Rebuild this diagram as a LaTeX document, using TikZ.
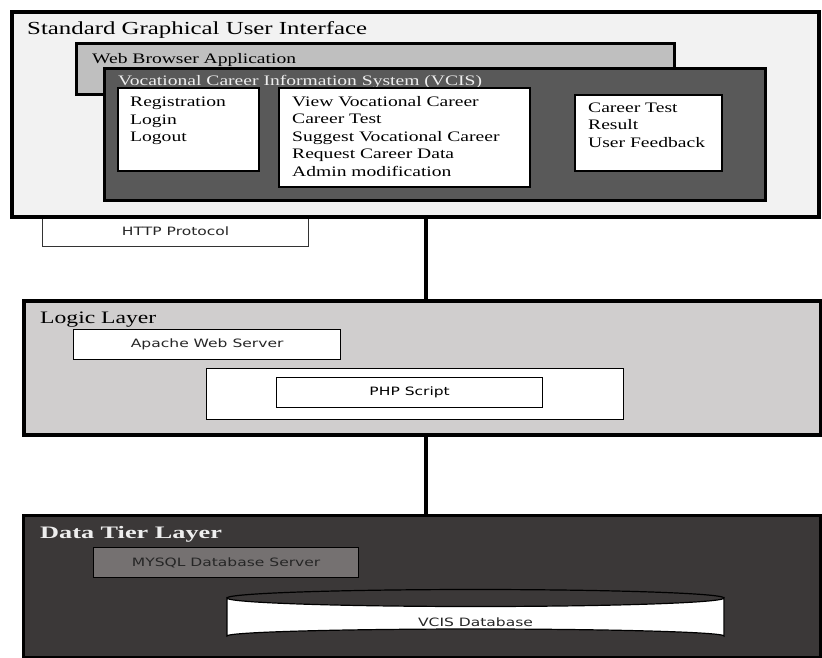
\documentclass[tikz,border=0pt]{standalone}
\usepackage{fontspec}
\setmainfont{Liberation Serif}[FakeStretch=1.35]
\newfontfamily\layerbold{Liberation Serif}[FakeStretch=1.5]
\setsansfont{DejaVu Sans}[FakeStretch=1.35]

\definecolor{guibg}{HTML}{F2F2F2}
\definecolor{webbg}{HTML}{BFBFBF}
\definecolor{vcisbg}{HTML}{595959}
\definecolor{logicbg}{HTML}{D0CECE}
\definecolor{databg}{HTML}{3B3838}
\definecolor{mysqlbg}{HTML}{757171}
\definecolor{lighttext}{HTML}{EEEEEE}
\definecolor{sanstext}{HTML}{262626}

\tikzset{
  frame/.style={anchor=north west, inner sep=0pt, draw=black},
  layer/.style={frame, line width=3.5pt},
  panel/.style={frame, fill=white, line width=1.5pt},
  plainbox/.style={frame, fill=white, line width=1.2pt},
  wire/.style={line width=4pt, draw=black},
  heading/.style={anchor=base west, inner sep=0pt},
  itemtext/.style={anchor=base west, inner sep=0pt, font=\fontsize{14.5}{17.5}\selectfont},
  sanslabel/.style={inner sep=0pt, text=sanstext, font=\sffamily\fontsize{11.5}{13}\selectfont},
}

\begin{document}
\begin{tikzpicture}[x=1pt, y=-1pt]
\useasboundingbox (0,0) rectangle (822,657);

% ---- presentation tier ----
\node[plainbox, draw=black!80, minimum width=266pt, minimum height=31pt] (http) at (42,215) {};
\node[sanslabel] (httplbl) at (http.center) {HTTP Protocol};

\node[layer, fill=guibg, minimum width=807pt, minimum height=205pt] (gui) at (10,10) {};
\node[heading, font=\fontsize{18.4}{22}\selectfont] (guititle) at (27,34) {Standard Graphical User Interface};

\node[frame, fill=webbg, line width=2.5pt, minimum width=598pt, minimum height=51pt] (web) at (75,42) {};
\node[heading, font=\fontsize{14.5}{17}\selectfont] (webtitle) at (92,63) {Web Browser Application};

\node[frame, fill=vcisbg, line width=3pt, minimum width=661pt, minimum height=132pt] (vcis) at (103,67) {};
\node[heading, text=lighttext, font=\fontsize{14.5}{17}\selectfont] (vcistitle) at (118,85) {Vocational Career Information System (VCIS)};

\node[panel, minimum width=141pt, minimum height=83pt] (acct) at (117,87) {};
\node[panel, minimum width=251pt, minimum height=99pt] (career) at (278,87) {};
\node[panel, minimum width=147pt, minimum height=76pt] (result) at (574,94) {};

\foreach \t [count=\i from 0] in {Registration, Login, Logout}
  \node[itemtext] (acct\i) at ({130},{106.5+17.6*\i}) {\t};
\foreach \t [count=\i from 0] in {View Vocational Career, Career Test, Suggest Vocational Career, Request Career Data, Admin modification}
  \node[itemtext] (career\i) at ({292},{106+17.5*\i}) {\t};
\foreach \t [count=\i from 0] in {Career Test, Result, User Feedback}
  \node[itemtext] (result\i) at ({588},{112+17.8*\i}) {\t};

% ---- logic tier ----
\node[layer, fill=logicbg, minimum width=797pt, minimum height=134pt] (logic) at (22,299) {};
\node[heading, font=\fontsize{17.5}{21}\selectfont] (logictitle) at (40,323) {Logic Layer};

\node[plainbox, line width=1.3pt, minimum width=267pt, minimum height=30pt] (apache) at (73,329) {};
\node[sanslabel] (apachelbl) at (apache.center) {Apache Web Server};

\node[plainbox, line width=1.3pt, minimum width=417pt, minimum height=51pt] (phpouter) at (206,368) {};
\node[plainbox, line width=1.3pt, minimum width=266pt, minimum height=30pt] (php) at (276,377) {};
\node[sanslabel, text=black] (phplbl) at (php.center) {PHP Script};

% ---- data tier ----
\node[frame, fill=databg, line width=3pt, minimum width=797pt, minimum height=142pt] (data) at (22,514) {};
\node[heading, text=lighttext, font=\layerbold\bfseries\fontsize{17.5}{21}\selectfont] (datatitle) at (40,538) {Data Tier Layer};

\node[frame, fill=mysqlbg, line width=1.2pt, minimum width=265pt, minimum height=30pt] (mysql) at (93,547) {};
\node[sanslabel] (mysqllbl) at (mysql.center) {MYSQL Database Server};

% database cylinder
\filldraw[fill=white, draw=black, line width=1.2pt]
  (227,598) -- (227,636) arc[start angle=180, end angle=0, x radius=248.5pt, y radius=7pt]
  -- (724,598) arc[start angle=0, end angle=-180, x radius=248.5pt, y radius=8.5pt] -- cycle;
\draw[black, line width=1.2pt] (227,598) arc[start angle=180, end angle=0, x radius=248.5pt, y radius=8.5pt];
\node[sanslabel] (db) at (475.5,622) {VCIS Database};

% ---- links between the tiers ----
\coordinate (spine) at (426,0);
\draw[wire] (gui.south -| spine) -- (logic.north -| spine);
\draw[wire] (logic.south -| spine) -- (data.north -| spine);
\end{tikzpicture}
\end{document}
